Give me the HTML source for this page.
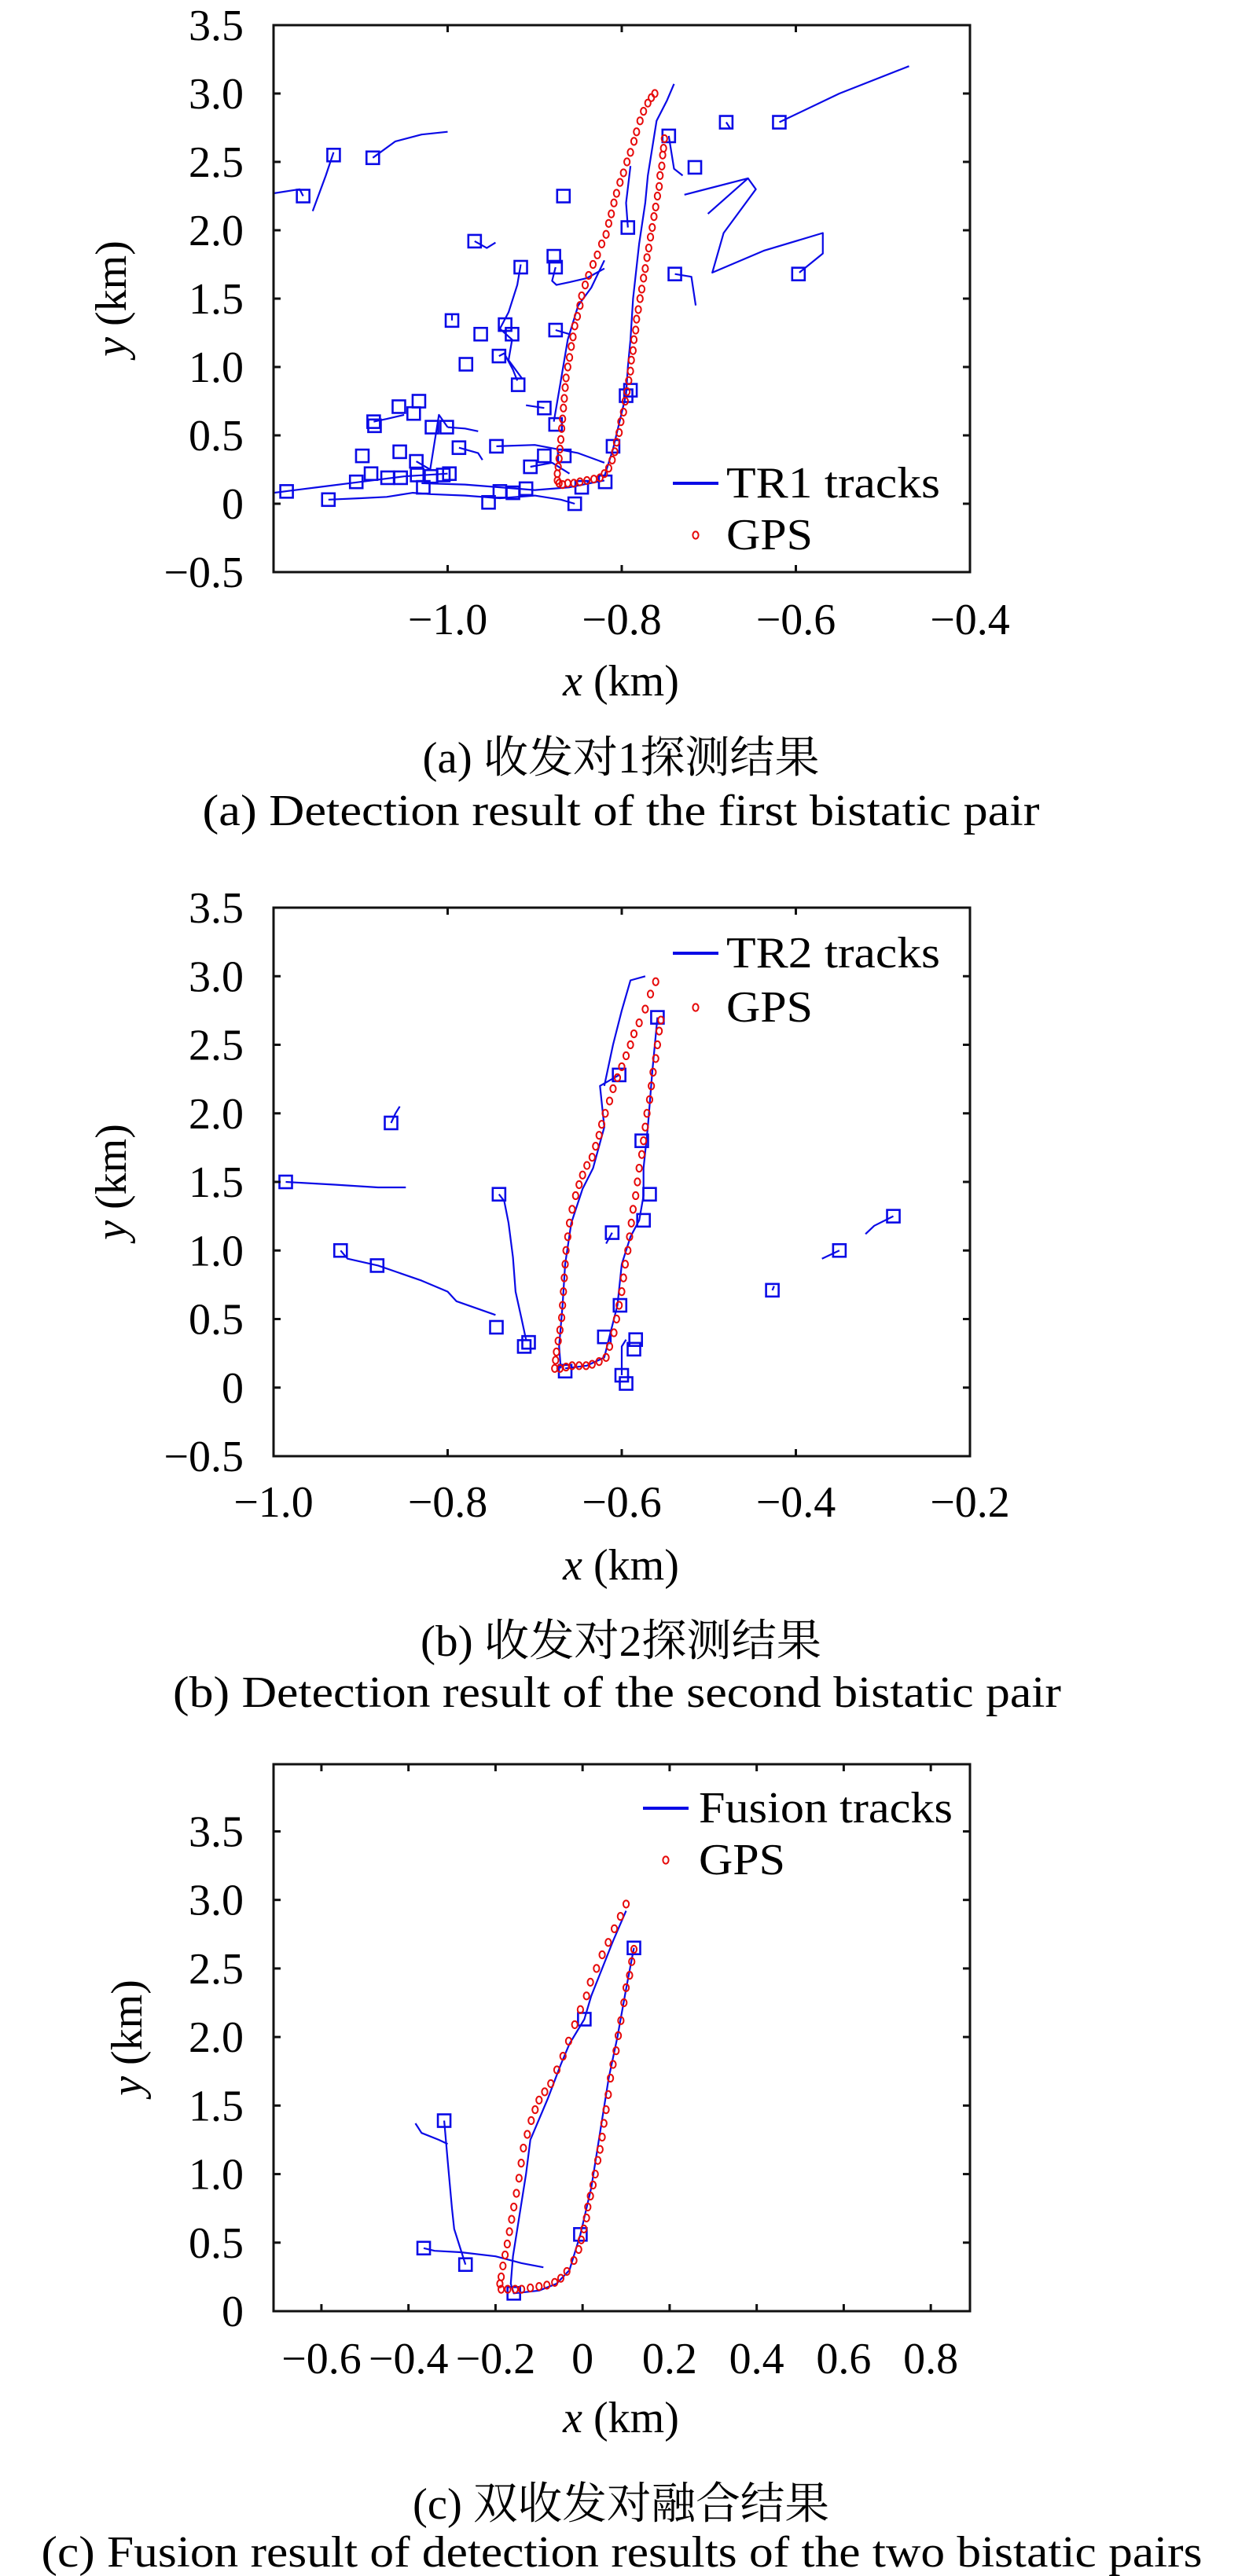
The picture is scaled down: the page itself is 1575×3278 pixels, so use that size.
<!DOCTYPE html>
<html><head><meta charset="utf-8"><style>
html,body{margin:0;padding:0;background:#fff;}
svg{display:block;}
text{font-family:"Liberation Serif","Noto Serif CJK SC",serif;fill:#000;}
</style></head><body>
<svg id="fig" width="1575" height="3278" viewBox="0 0 1575 3278" xmlns="http://www.w3.org/2000/svg"></svg>
<script>
// ---------- Plot A data ----------
const gpsA_x=[-0.751,-0.752,-0.753,-0.754,-0.756,-0.757,-0.759,-0.761,-0.763,-0.765,-0.767,-0.769,-0.771,-0.773,-0.775,-0.777,-0.779,-0.781,-0.783,-0.784,-0.786,-0.787,-0.789,-0.790,-0.792,-0.794,-0.796,-0.798,-0.801,-0.803,-0.806,-0.808,-0.811,-0.815,-0.82,-0.825,-0.832,-0.84,-0.848,-0.855,-0.862,-0.868,-0.872,-0.874,-0.874,-0.873,-0.872,-0.871,-0.870,-0.869,-0.868,-0.867,-0.866,-0.865,-0.864,-0.862,-0.860,-0.858,-0.856,-0.854,-0.851,-0.848,-0.846,-0.842,-0.838,-0.833,-0.828,-0.823,-0.818,-0.815,-0.812,-0.809,-0.806,-0.802,-0.798,-0.794,-0.790,-0.786,-0.783,-0.779,-0.775,-0.770,-0.766,-0.762];
const gpsA_y=[2.67,2.6,2.55,2.47,2.4,2.32,2.25,2.17,2.1,2.02,1.95,1.87,1.8,1.72,1.65,1.57,1.5,1.42,1.35,1.27,1.2,1.12,1.05,0.97,0.9,0.82,0.75,0.67,0.6,0.52,0.45,0.38,0.32,0.26,0.22,0.19,0.18,0.17,0.16,0.15,0.15,0.14,0.15,0.17,0.22,0.27,0.33,0.4,0.47,0.55,0.62,0.7,0.77,0.85,0.92,1.0,1.07,1.15,1.22,1.3,1.37,1.45,1.52,1.6,1.67,1.75,1.82,1.9,1.97,2.05,2.12,2.2,2.27,2.35,2.42,2.5,2.57,2.65,2.72,2.8,2.87,2.93,2.97,3.0];
const sqA_x=[-1.185,-1.137,-1.131,-1.086,-1.166,-0.969,-0.916,-0.878,-0.876,-0.867,-0.793,-0.746,-0.716,-0.68,-0.619,-0.739,-0.597,-0.995,-0.962,-0.934,-0.926,-0.979,-0.941,-0.919,-0.876,-0.889,-0.876,-0.795,-0.79,-1.056,-1.033,-1.085,-1.084,-1.039,-1.018,-1.001,-0.987,-0.944,-1.055,-1.098,-1.036,-0.905,-0.889,-0.866,-0.81,-0.819,-0.846,-1.105,-1.088,-1.069,-1.054,-1.035,-1.019,-1.005,-0.998,-1.028,-0.953,-0.94,-0.925,-0.91,-0.854];
const sqA_y=[0.09,0.03,2.55,2.53,2.25,1.92,1.73,1.81,1.73,2.25,2.02,2.69,2.46,2.79,2.79,1.68,1.68,1.34,1.24,1.31,1.24,1.02,1.08,0.87,1.27,0.7,0.58,0.79,0.83,0.71,0.75,0.6,0.57,0.66,0.56,0.56,0.41,0.42,0.38,0.35,0.31,0.27,0.35,0.35,0.42,0.16,0.12,0.16,0.22,0.19,0.19,0.21,0.2,0.21,0.22,0.12,0.01,0.09,0.08,0.11,0.0];
const trA=[
[[-1.2,2.27],[-1.17,2.3],[-1.166,2.25]],
[[-1.131,2.57],[-1.14,2.4],[-1.155,2.14]],
[[-1.086,2.53],[-1.06,2.65],[-1.03,2.7],[-1.0,2.72]],
[[-0.969,1.92],[-0.955,1.87],[-0.945,1.91]],
[[-0.916,1.75],[-0.92,1.6],[-0.93,1.4],[-0.94,1.28],[-0.926,1.2],[-0.93,1.05],[-0.915,0.92]],
[[-0.878,0.6],[-0.87,0.9],[-0.862,1.2],[-0.85,1.45],[-0.835,1.58],[-0.82,1.78]],
[[-0.876,1.73],[-0.88,1.63],[-0.875,1.6],[-0.86,1.62],[-0.84,1.65],[-0.82,1.72]],
[[-0.876,1.27],[-0.86,1.24]],
[[-0.74,3.07],[-0.748,2.95],[-0.76,2.8],[-0.77,2.4],[-0.773,2.2],[-0.78,1.9],[-0.787,1.5],[-0.79,1.2],[-0.793,1.0],[-0.795,0.8],[-0.81,0.4],[-0.82,0.2]],
[[-0.793,2.02],[-0.795,2.2],[-0.79,2.47]],
[[-0.746,2.69],[-0.74,2.45],[-0.73,2.4]],
[[-0.728,2.26],[-0.655,2.38],[-0.701,2.12]],
[[-0.655,2.38],[-0.646,2.3],[-0.683,1.98],[-0.696,1.69],[-0.637,1.85],[-0.569,1.98],[-0.569,1.83],[-0.596,1.69]],
[[-0.619,2.79],[-0.55,3.0],[-0.47,3.2]],
[[-0.68,2.79],[-0.675,2.74]],
[[-0.739,1.68],[-0.72,1.66],[-0.715,1.45]],
[[-1.2,0.08],[-1.15,0.12],[-1.1,0.16],[-1.05,0.2],[-1.0,0.22]],
[[-1.137,0.03],[-1.1,0.04],[-1.07,0.05],[-1.04,0.08],[-1.02,0.07],[-0.98,0.06],[-0.94,0.04],[-0.9,0.06],[-0.87,0.03],[-0.854,0.0]],
[[-1.03,0.15],[-0.98,0.14],[-0.94,0.12],[-0.9,0.1],[-0.86,0.12],[-0.82,0.17]],
[[-0.944,0.42],[-0.9,0.43],[-0.85,0.37],[-0.82,0.3]],
[[-1.036,0.31],[-1.02,0.25],[-1.01,0.65],[-1.0,0.56]],
[[-0.987,0.41],[-0.965,0.37],[-0.96,0.32]],
[[-1.0,0.56],[-0.98,0.55],[-0.965,0.53]],
[[-1.085,0.6],[-1.07,0.62],[-1.05,0.65]],
[[-0.889,0.7],[-0.91,0.72]],
[[-0.905,0.27],[-0.88,0.3],[-0.86,0.22]],
[[-0.995,1.34],[-0.995,1.38]],
[[-0.941,1.08],[-0.935,1.1],[-0.925,0.98],[-0.92,0.9]]
];
const ticksA_x=[-1.0,-0.8,-0.6,-0.4];
const ticksA_xl=["−1.0","−0.8","−0.6","−0.4"];
const ticksA_y=[-0.5,0,0.5,1.0,1.5,2.0,2.5,3.0,3.5];
const ticksA_yl=["−0.5","0","0.5","1.0","1.5","2.0","2.5","3.0","3.5"];

// ---------- Plot B data ----------
const gpsB_x=[-0.555,-0.557,-0.559,-0.561,-0.564,-0.566,-0.568,-0.571,-0.573,-0.575,-0.577,-0.580,-0.582,-0.584,-0.587,-0.589,-0.591,-0.593,-0.596,-0.598,-0.6,-0.603,-0.606,-0.609,-0.614,-0.618,-0.626,-0.634,-0.641,-0.649,-0.657,-0.664,-0.671,-0.677,-0.676,-0.675,-0.673,-0.671,-0.669,-0.668,-0.667,-0.666,-0.665,-0.664,-0.662,-0.660,-0.657,-0.653,-0.649,-0.645,-0.640,-0.634,-0.630,-0.626,-0.623,-0.619,-0.614,-0.610,-0.605,-0.600,-0.595,-0.590,-0.586,-0.580,-0.573,-0.567,-0.561];
const gpsB_y=[2.68,2.6,2.5,2.4,2.3,2.2,2.1,2.0,1.9,1.8,1.7,1.6,1.5,1.4,1.3,1.2,1.1,1.0,0.9,0.8,0.7,0.6,0.5,0.4,0.3,0.22,0.19,0.17,0.16,0.16,0.16,0.15,0.14,0.14,0.2,0.26,0.34,0.42,0.51,0.6,0.7,0.8,0.9,1.0,1.1,1.2,1.3,1.4,1.48,1.55,1.62,1.68,1.76,1.84,1.92,2.0,2.09,2.18,2.26,2.34,2.42,2.5,2.58,2.66,2.76,2.87,2.96,3.03];
const sqB_x=[-0.986,-0.865,-0.923,-0.881,-0.741,-0.744,-0.712,-0.707,-0.665,-0.62,-0.611,-0.603,-0.559,-0.577,-0.568,-0.575,-0.602,-0.6,-0.595,-0.584,-0.586,-0.427,-0.35,-0.288];
const sqB_y=[1.5,1.93,1.0,0.89,1.41,0.44,0.3,0.33,0.12,0.37,1.13,2.28,2.7,1.8,1.41,1.22,0.6,0.09,0.03,0.35,0.28,0.71,1.0,1.25];
const trB=[
[[-0.986,1.5],[-0.93,1.48],[-0.88,1.46],[-0.848,1.46]],
[[-0.865,1.93],[-0.86,2.0],[-0.855,2.05]],
[[-0.923,1.0],[-0.915,0.94],[-0.88,0.89],[-0.83,0.78],[-0.8,0.7],[-0.79,0.63],[-0.745,0.53]],
[[-0.741,1.41],[-0.735,1.36],[-0.73,1.2],[-0.725,0.95],[-0.722,0.7],[-0.715,0.5],[-0.71,0.35]],
[[-0.67,0.14],[-0.672,0.3],[-0.668,0.6],[-0.665,0.9],[-0.658,1.2],[-0.645,1.45],[-0.633,1.6],[-0.62,1.9],[-0.625,2.2],[-0.603,2.28]],
[[-0.62,2.2],[-0.61,2.5],[-0.6,2.75],[-0.59,2.97],[-0.573,3.0]],
[[-0.559,2.7],[-0.565,2.3],[-0.57,1.9],[-0.575,1.6],[-0.575,1.4],[-0.58,1.22],[-0.59,1.1],[-0.6,0.9],[-0.605,0.6],[-0.615,0.35],[-0.62,0.22],[-0.64,0.16],[-0.665,0.14]],
[[-0.611,1.13],[-0.618,1.05]],
[[-0.6,0.09],[-0.6,0.3],[-0.595,0.35]],
[[-0.427,0.71],[-0.425,0.74]],
[[-0.35,1.0],[-0.37,0.94]],
[[-0.288,1.25],[-0.31,1.18],[-0.32,1.12]]
];
const ticksB_x=[-1.0,-0.8,-0.6,-0.4,-0.2];
const ticksB_xl=["−1.0","−0.8","−0.6","−0.4","−0.2"];
const ticksB_y=[-0.5,0,0.5,1.0,1.5,2.0,2.5,3.0,3.5];
const ticksB_yl=["−0.5","0","0.5","1.0","1.5","2.0","2.5","3.0","3.5"];

// ---------- Plot C data ----------
const gpsC_x=[0.118,0.113,0.108,0.1,0.095,0.088,0.082,0.077,0.07,0.064,0.059,0.054,0.049,0.045,0.04,0.035,0.029,0.024,0.018,0.012,0.009,0.003,-0.003,-0.009,-0.02,-0.036,-0.05,-0.064,-0.082,-0.1,-0.12,-0.14,-0.155,-0.172,-0.187,-0.19,-0.187,-0.183,-0.178,-0.173,-0.168,-0.163,-0.158,-0.152,-0.146,-0.141,-0.136,-0.127,-0.118,-0.109,-0.1,-0.087,-0.073,-0.059,-0.045,-0.032,-0.018,-0.005,0.009,0.018,0.032,0.045,0.059,0.073,0.087,0.1];
const gpsC_y=[2.64,2.55,2.45,2.36,2.25,2.12,2.01,1.9,1.8,1.7,1.58,1.47,1.37,1.27,1.18,1.1,1.0,0.92,0.84,0.76,0.68,0.6,0.52,0.45,0.37,0.29,0.24,0.21,0.19,0.18,0.17,0.16,0.16,0.16,0.16,0.2,0.25,0.33,0.41,0.49,0.58,0.67,0.76,0.86,0.97,1.08,1.19,1.29,1.39,1.47,1.54,1.6,1.66,1.76,1.86,1.97,2.09,2.2,2.3,2.4,2.5,2.6,2.69,2.79,2.88,2.97];
const sqC_x=[0.118,0.004,-0.005,-0.158,-0.318,-0.365,-0.269];
const sqC_y=[2.65,2.13,0.56,0.13,1.39,0.46,0.34];
const trC=[
[[0.1,2.92],[0.07,2.7],[0.045,2.5],[0.02,2.3],[0.004,2.13],[-0.03,1.95],[-0.05,1.8],[-0.08,1.55],[-0.1,1.4],[-0.12,1.25],[-0.13,1.0],[-0.145,0.7],[-0.16,0.4],[-0.165,0.2],[-0.158,0.13],[-0.1,0.15],[-0.06,0.2],[-0.03,0.3],[-0.005,0.56],[0.02,0.9],[0.04,1.3],[0.06,1.7],[0.08,2.0],[0.1,2.35],[0.118,2.65]],
[[-0.384,1.37],[-0.37,1.3],[-0.33,1.25],[-0.31,1.22]],
[[-0.318,1.39],[-0.31,1.1],[-0.3,0.75],[-0.295,0.6],[-0.28,0.45],[-0.269,0.34]],
[[-0.365,0.46],[-0.34,0.44],[-0.28,0.43],[-0.2,0.4],[-0.14,0.35],[-0.09,0.32]]
];
const ticksC_x=[-0.6,-0.4,-0.2,0,0.2,0.4,0.6,0.8];
const ticksC_xl=["−0.6","−0.4","−0.2","0","0.2","0.4","0.6","0.8"];
const ticksC_y=[0,0.5,1.0,1.5,2.0,2.5,3.0,3.5];
const ticksC_yl=["0","0.5","1.0","1.5","2.0","2.5","3.0","3.5"];

const NS="http://www.w3.org/2000/svg";
const svg=document.getElementById('fig');
const BLUE="#0a0ae6", RED="#e60a0a";
function mk(tag,attrs,parent){const e=document.createElementNS(NS,tag);for(const k in attrs)e.setAttribute(k,attrs[k]);(parent||svg).appendChild(e);return e;}
function txt(s,x,y,size,anchor,parent,extra){const t=mk('text',Object.assign({x:x,y:y,'font-size':size,'text-anchor':anchor},extra||{}),parent);t.textContent=s;return t;}

function plot(cfg){
  const g=mk('g',{});
  
  
  const L=348,R=1234,T=cfg.top,B=cfg.bottom;
  const sx=v=>L+(v-cfg.xmin)/(cfg.xmax-cfg.xmin)*(R-L);
  const sy=v=>B-(v-cfg.ymin)/(cfg.ymax-cfg.ymin)*(B-T);
  const tg=mk('g',{},g);
  
  
  cfg.tracks.forEach(tr=>{
    const p=mk('polyline',{points:tr.map(q=>sx(q[0]).toFixed(1)+','+sy(q[1]).toFixed(1)).join(' '),fill:'none',stroke:BLUE,'stroke-width':2.2,'stroke-linejoin':'round'},tg);
    
    
  });
  cfg.sqx.forEach((x,i)=>{
    const r=mk('rect',{x:sx(x)-8,y:sy(cfg.sqy[i])-8,width:16,height:16,fill:'none',stroke:BLUE,'stroke-width':2.6},tg);
    
    
  });
  const gg=mk('g',{},g);
  
  
  cfg.gx.forEach((x,i)=>{
    const c=mk('ellipse',{cx:sx(x),cy:sy(cfg.gy[i]),rx:3.6,ry:4.6,fill:'none',stroke:RED,'stroke-width':2},gg);
    
    
  });
  const box=mk('rect',{x:L,y:T,width:R-L,height:B-T,fill:'none',stroke:'#111','stroke-width':3},g);
  
  
  cfg.xt.forEach((v,i)=>{
    const X=sx(v);
    mk('line',{x1:X,y1:B,x2:X,y2:B-9,stroke:'#111','stroke-width':3},g);
    mk('line',{x1:X,y1:T,x2:X,y2:T+9,stroke:'#111','stroke-width':3},g);
    const t=txt(cfg.xtl[i],X,cfg.xlabY,56,'middle',g);
    
    
  });
  cfg.yt.forEach((v,i)=>{
    const Y=sy(v);
    mk('line',{x1:L,y1:Y,x2:L+9,y2:Y,stroke:'#111','stroke-width':3},g);
    mk('line',{x1:R,y1:Y,x2:R-9,y2:Y,stroke:'#111','stroke-width':3},g);
    const t=txt(cfg.ytl[i],310,Y+19,56,'end',g);
    
    
  });
  const xt=mk('text',{x:790,y:cfg.xtitleY,'font-size':56,'text-anchor':'middle'},g);
  xt.innerHTML='<tspan font-style="italic">x</tspan> (km)';
  
  
  const cy=(T+B)/2;
  const yt=mk('text',{x:0,y:0,'font-size':56,'text-anchor':'middle',transform:`translate(${cfg.ytitleX},${cy}) rotate(-90)`},g);
  yt.innerHTML='<tspan font-style="italic">y</tspan> (km)';
  
  
  const lg=mk('g',{},g);
  
  
  mk('line',{x1:cfg.leg.lx1,y1:cfg.leg.ly,x2:cfg.leg.lx2,y2:cfg.leg.ly,stroke:BLUE,'stroke-width':4},lg);
  const l1=txt(cfg.leg.label,cfg.leg.tx,cfg.leg.ly+18,56,'start',lg,{textLength:cfg.leg.tw,lengthAdjust:'spacingAndGlyphs'});
  
  
  mk('ellipse',{cx:(cfg.leg.lx1+cfg.leg.lx2)/2,cy:cfg.leg.gy,rx:3.6,ry:4.6,fill:'none',stroke:RED,'stroke-width':2},lg);
  const l2=txt('GPS',cfg.leg.tx,cfg.leg.gy+18,56,'start',lg,{textLength:110,lengthAdjust:'spacingAndGlyphs'});
  
  
  const c1=txt(cfg.cap1,790,cfg.cap1Y,56,'middle',g,{textLength:cfg.cap1W,lengthAdjust:'spacingAndGlyphs'});
  
  
  const c2=txt(cfg.cap2,cfg.cap2X,cfg.cap2Y,56,'middle',g,{textLength:cfg.cap2W,lengthAdjust:'spacingAndGlyphs'});
  
  
}

plot({name:'plot-a-tr1',top:32,bottom:728,xmin:-1.2,xmax:-0.4,ymin:-0.5,ymax:3.5,
  tracks:trA,sqx:sqA_x,sqy:sqA_y,gx:gpsA_x,gy:gpsA_y,xt:ticksA_x,xtl:ticksA_xl,yt:ticksA_y,ytl:ticksA_yl,
  xlabY:807,xtitleY:885,ytitleX:160,
  leg:{lx1:856,lx2:914,ly:615,tx:924,tw:272,label:'TR1 tracks',gy:681},
  cap1:'(a) 收发对1探测结果',cap1Y:983,cap1W:505,cap2:'(a) Detection result of the first bistatic pair',cap2X:790,cap2Y:1050,cap2W:1065});
plot({name:'plot-b-tr2',top:1155,bottom:1853,xmin:-1.0,xmax:-0.2,ymin:-0.5,ymax:3.5,
  tracks:trB,sqx:sqB_x,sqy:sqB_y,gx:gpsB_x,gy:gpsB_y,xt:ticksB_x,xtl:ticksB_xl,yt:ticksB_y,ytl:ticksB_yl,
  xlabY:1930,xtitleY:2010,ytitleX:160,
  leg:{lx1:856,lx2:914,ly:1213,tx:924,tw:272,label:'TR2 tracks',gy:1282},
  cap1:'(b) 收发对2探测结果',cap1Y:2107,cap1W:510,cap2:'(b) Detection result of the second bistatic pair',cap2X:785,cap2Y:2172,cap2W:1130});
plot({name:'plot-c-fusion',top:2245,bottom:2941,xmin:-0.71,xmax:0.89,ymin:0,ymax:3.99,
  tracks:trC,sqx:sqC_x,sqy:sqC_y,gx:gpsC_x,gy:gpsC_y,xt:ticksC_x,xtl:ticksC_xl,yt:ticksC_y,ytl:ticksC_yl,
  xlabY:3020,xtitleY:3095,ytitleX:180,
  leg:{lx1:818,lx2:876,ly:2301,tx:889,tw:323,label:'Fusion tracks',gy:2367},
  cap1:'(c) 双收发对融合结果',cap1Y:3205,cap1W:530,cap2:'(c) Fusion result of detection results of the two bistatic pairs',cap2X:791,cap2Y:3266,cap2W:1477});
</script>
</body></html>
